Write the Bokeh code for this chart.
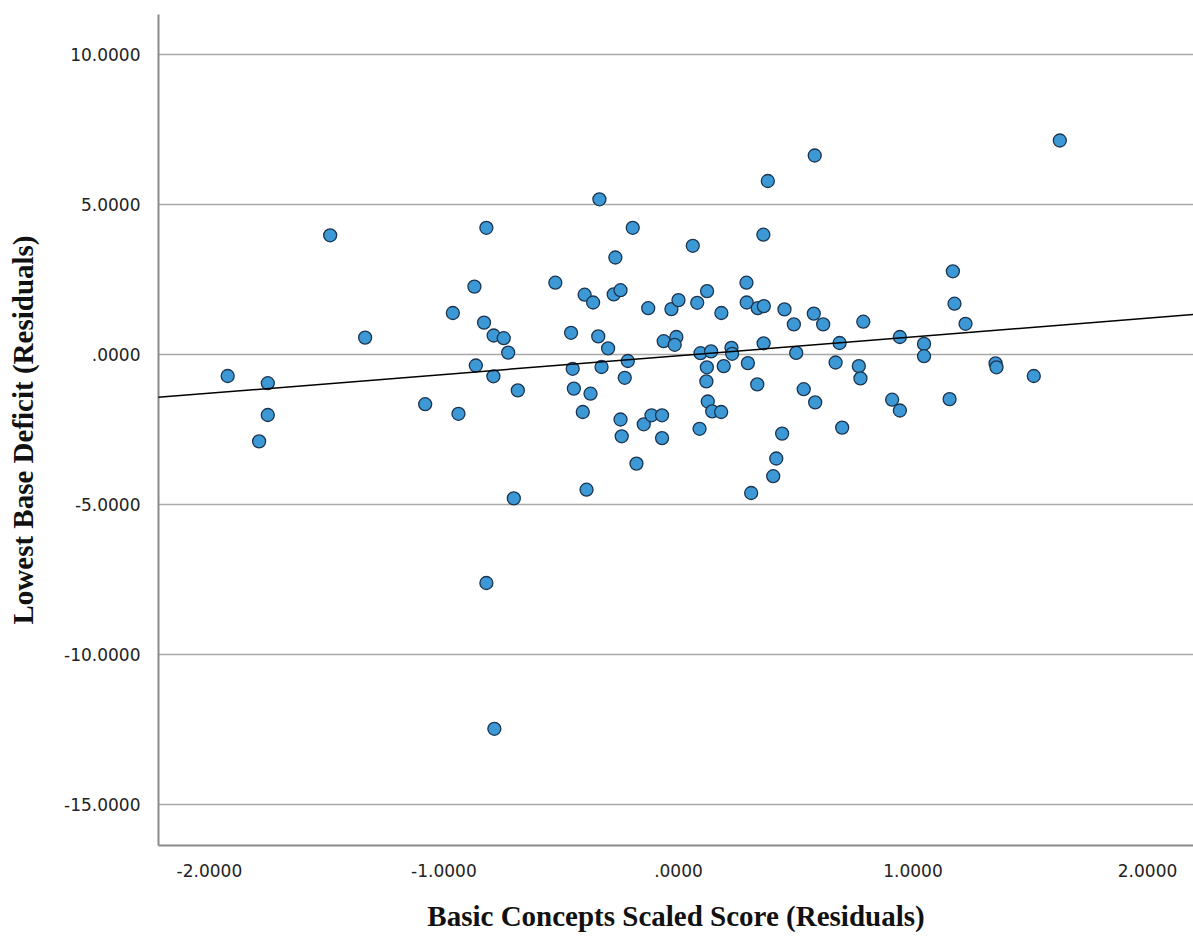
from bokeh.plotting import figure
from bokeh.models import Range1d, FixedTicker, Slope, ColumnDataSource
from bokeh.embed import file_html
from bokeh.resources import INLINE

# Basic Concepts Scaled Score (Residuals)
x_resid = [-1.922, -1.751, -1.751, -1.788, -1.485, -1.336, -1.080, -0.962, -0.938, -0.870,
           -0.864, -0.819, -0.829, -0.788, -0.745, -0.789, -0.726, -0.685, -0.702, -0.819,
           -0.785, -0.525, -0.458, -0.451, -0.446, -0.375, -0.408, -0.392, -0.400, -0.364,
           -0.342, -0.337, -0.328, -0.300, -0.276, -0.269, -0.247, -0.247, -0.242, -0.229,
           -0.216, -0.195, -0.179, -0.148, -0.129, -0.115, -0.070, -0.070, -0.063, -0.030,
           -0.009, -0.016, 0.000, 0.061, 0.080, 0.090, 0.094, 0.122, 0.121, 0.119,
           0.125, 0.139, 0.144, 0.182, 0.183, 0.193, 0.226, 0.229, 0.290, 0.291,
           0.296, 0.310, 0.336, 0.338, 0.364, 0.362, 0.363, 0.381, 0.404, 0.417,
           0.442, 0.452, 0.492, 0.502, 0.534, 0.577, 0.581, 0.583, 0.617, 0.670,
           0.687, 0.698, 0.769, 0.776, 0.788, 0.911, 0.944, 0.944, 1.047, 1.047,
           1.156, 1.170, 1.177, 1.224, 1.352, 1.356, 1.515, 1.626]

# Lowest Base Deficit (Residuals)
y_resid = [-0.72, -0.96, -2.02, -2.90, 3.97, 0.56, -1.66, 1.38, -1.98, 2.26,
           -0.37, 4.22, 1.06, 0.63, 0.54, -0.73, 0.06, -1.20, -4.80, -7.62,
           -12.48, 2.39, 0.72, -0.48, -1.14, -1.31, -1.92, -4.51, 1.99, 1.73,
           0.60, 5.17, -0.42, 0.20, 2.00, 3.23, 2.14, -2.17, -2.73, -0.78,
           -0.22, 4.22, -3.64, -2.33, 1.54, -2.03, -2.03, -2.79, 0.44, 1.51,
           0.58, 0.32, 1.81, 3.62, 1.72, -2.48, 0.04, 2.11, -0.43, -0.90,
           -1.57, 0.10, -1.90, -1.92, 1.38, -0.39, 0.22, 0.02, 2.39, 1.73,
           -0.29, -4.62, -1.00, 1.54, 1.61, 3.99, 0.37, 5.78, -4.06, -3.47,
           -2.64, 1.50, 1.00, 0.05, -1.16, 1.36, 6.63, -1.60, 1.00, -0.27,
           0.38, -2.44, -0.39, -0.80, 1.09, -1.51, 0.58, -1.87, 0.35, -0.06,
           -1.49, 2.77, 1.69, 1.02, -0.30, -0.43, -0.72, 7.13]

# Linear fit line
fit_slope = 0.625
fit_intercept = -0.044

x_ticks = [-2, -1, 0, 1, 2]
x_tick_labels = ["-2.0000", "-1.0000", ".0000", "1.0000", "2.0000"]
y_ticks = [-15, -10, -5, 0, 5, 10]
y_tick_labels = ["-15.0000", "-10.0000", "-5.0000", ".0000", "5.0000", "10.0000"]

x_label = "Basic Concepts Scaled Score (Residuals)"
y_label = "Lowest Base Deficit (Residuals)"

source = ColumnDataSource(data=dict(x=x_resid, y=y_resid))

p = figure(width=1193, height=940,
           x_range=Range1d(-2.217, 2.196), y_range=Range1d(-16.37, 11.33),
           output_backend="svg", toolbar_location=None,
           min_border_left=158, min_border_right=0, min_border_top=14, min_border_bottom=95)

p.background_fill_color = "white"
p.border_fill_color = "white"
p.outline_line_color = None

p.xgrid.visible = False
p.ygrid.grid_line_color = "#a9a9a9"
p.ygrid.grid_line_width = 1.3

for ax in (p.xaxis, p.yaxis):
    ax.axis_line_color = "#8a8a8a"
    ax.axis_line_width = 2
    ax.major_tick_line_color = None
    ax.minor_tick_line_color = None
    ax.major_label_text_font = "DejaVu Sans"
    ax.major_label_text_font_size = "17px"
    ax.major_label_text_color = "#222222"
    ax.axis_label_text_font = "Liberation Serif"
    ax.axis_label_text_font_style = "bold"
    ax.axis_label_text_font_size = "29px"
    ax.axis_label_text_color = "#111111"

p.xaxis.ticker = FixedTicker(ticks=x_ticks)
p.xaxis.major_label_overrides = dict(zip(x_ticks, x_tick_labels))
p.yaxis.ticker = FixedTicker(ticks=y_ticks)
p.yaxis.major_label_overrides = dict(zip(y_ticks, y_tick_labels))

p.xaxis.major_label_standoff = 12
p.yaxis.major_label_standoff = 12
p.xaxis.axis_label = x_label
p.yaxis.axis_label = y_label
p.xaxis.axis_label_standoff = 20
p.yaxis.axis_label_standoff = 22

p.scatter("x", "y", source=source, size=13, fill_color="#3d98d6",
          line_color="#1b3550", line_width=1.3)

p.add_layout(Slope(gradient=fit_slope, y_intercept=fit_intercept,
                   line_color="black", line_width=1.5))

open("out.html", "w").write(file_html(p, INLINE))
